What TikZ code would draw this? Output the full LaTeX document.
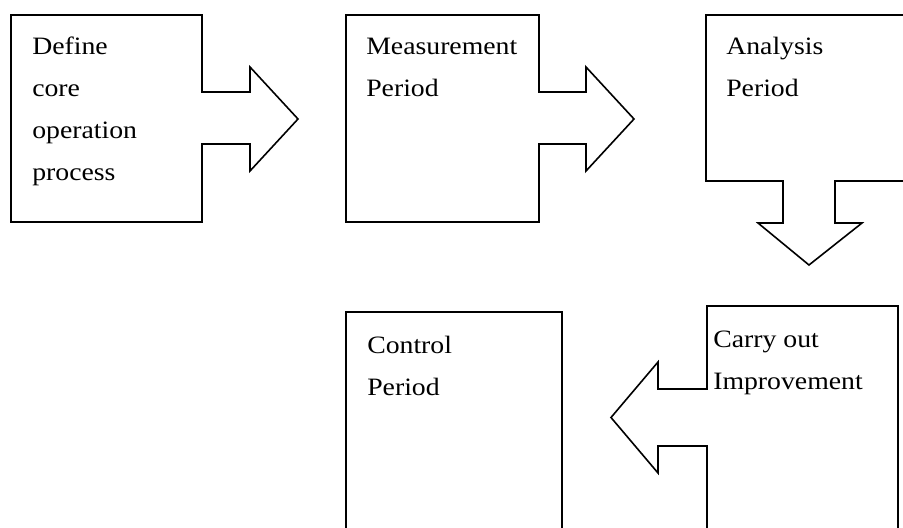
\documentclass[tikz,border=0pt]{standalone}
\usepackage{fontspec}
\setmainfont{Liberation Serif}
\newcommand{\widetxt}[1]{\scalebox{1.11}[1]{#1}}
\begin{document}
\begin{tikzpicture}[x=0.75pt,y=-0.75pt,
  callout/.style={draw=black,line width=1.2pt,line join=miter,fill=white},
  lbl/.style={anchor=base west,inner sep=0pt,font=\fontsize{18.75pt}{22pt}\selectfont}]
\useasboundingbox (0,0) rectangle (903,528);
\clip (0,0) rectangle (903,528);

% step 1: box with arrow pointing right
\draw[callout] (11,15) -- (202,15) -- (202,92) -- (250,92) -- (250,67)
  -- (298,119) -- (250,171) -- (250,144) -- (202,144) -- (202,222)
  -- (11,222) -- cycle;
\node[lbl] (d1) at (32,55)  {\widetxt{Define}};
\node[lbl] (d2) at (32,97)  {\widetxt{core}};
\node[lbl] (d3) at (32,138) {\widetxt{operation}};
\node[lbl] (d4) at (32,180) {\widetxt{process}};

% step 2: box with arrow pointing right
\draw[callout] (346,15) -- (539,15) -- (539,92) -- (586,92) -- (586,67)
  -- (634,119) -- (586,171) -- (586,144) -- (539,144) -- (539,222)
  -- (346,222) -- cycle;
\node[lbl] (m1) at (366,55) {\widetxt{Measurement}};
\node[lbl] (m2) at (366,97) {\widetxt{Period}};

% step 3: box with arrow pointing down (runs off the right edge)
\draw[callout] (706,15) -- (930,15) -- (930,181) -- (835,181) -- (835,223)
  -- (862,223) -- (809,265) -- (758,223) -- (783,223) -- (783,181)
  -- (706,181) -- cycle;
\node[lbl] (a1) at (726,55) {\widetxt{Analysis}};
\node[lbl] (a2) at (726,97) {\widetxt{Period}};

% step 4: box with arrow pointing left (runs off the bottom edge)
\draw[callout] (707,389) -- (707,306) -- (898,306) -- (898,560) -- (707,560)
  -- (707,446) -- (658,446) -- (658,473) -- (611,417.5) -- (658,362)
  -- (658,389) -- cycle;
\node[lbl] (c1) at (713,347) {\widetxt{Carry out}};
\node[lbl] (c2) at (713,389) {\widetxt{Improvement}};

% step 5: plain box (runs off the bottom edge)
\draw[callout] (346,560) -- (346,312) -- (562,312) -- (562,560);
\node[lbl] (k1) at (367,353) {\widetxt{Control}};
\node[lbl] (k2) at (367,395) {\widetxt{Period}};
\end{tikzpicture}
\end{document}
